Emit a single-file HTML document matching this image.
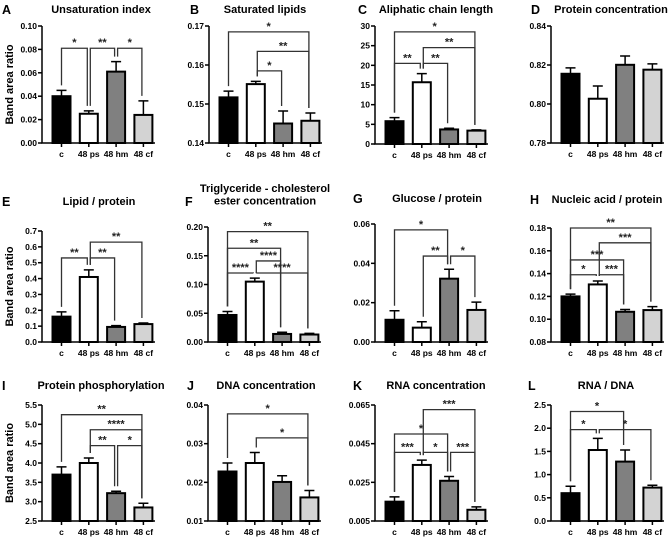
<!DOCTYPE html>
<html><head><meta charset="utf-8"><style>
html,body{margin:0;padding:0;background:#fff;}
svg{display:block;font-family:"Liberation Sans",Arial,sans-serif;font-weight:bold;}
</style></head><body>
<svg id="fig" width="669" height="538" viewBox="0 0 669 538" xmlns="http://www.w3.org/2000/svg"></svg>
<script>
const categories = ["c","48 ps","48 hm","48 cf"];
const barColors = ["#000000","#ffffff","#808080","#d3d3d3"];

const aVals=[0.040,0.025,0.061,0.024], aErr=[0.005,0.0025,0.0085,0.012];
const aTicks=[0,0.02,0.04,0.06,0.08,0.10];
const aBr=[[0,1,0.081,"*"],[1,2,0.081,"**"],[2,3,0.081,"*"]];
const bVals=[0.1517,0.1551,0.1450,0.1457], bErr=[0.0016,0.0007,0.0032,0.0020];
const bTicks=[0.14,0.15,0.16,0.17];
const bBr=[[0,3,0.1685,"*"],[1,3,0.1635,"**"],[1,2,0.1585,"*"]];
const cVals=[5.8,15.7,3.7,3.4], cErr=[0.9,2.2,0.3,0.2];
const cTicks=[0,5,10,15,20,25,30];
const cBr=[[0,3,28.5,"*"],[1,3,24.5,"**"],[0,1,20.5,"**"],[1,2,20.5,"**"]];
const dVals=[0.8155,0.8027,0.8201,0.8176], dErr=[0.003,0.0065,0.0045,0.003];
const dTicks=[0.78,0.80,0.82,0.84];
const dBr=[];
const eVals=[0.16,0.41,0.095,0.113], eErr=[0.03,0.045,0.008,0.007];
const eTicks=[0,0.1,0.2,0.3,0.4,0.5,0.6,0.7];
const eBr=[[1,3,0.63,"**"],[0,1,0.53,"**"],[1,2,0.53,"**"]];
const fVals=[0.047,0.105,0.014,0.013], fErr=[0.006,0.006,0.003,0.002];
const fTicks=[0,0.05,0.10,0.15,0.20];
const fBr=[[0,3,0.192,"**"],[0,2,0.163,"**"],[1,2,0.141,"****"],[0,1,0.12,"****"],[1,3,0.12,"****"]];
const gVals=[0.0113,0.0073,0.0322,0.0163], gErr=[0.0046,0.003,0.0048,0.004];
const gTicks=[0,0.02,0.04,0.06];
const gBr=[[0,2,0.057,"*"],[1,2,0.0437,"**"],[2,3,0.0437,"*"]];
const hVals=[0.120,0.1305,0.1065,0.108], hErr=[0.002,0.003,0.002,0.003];
const hTicks=[0.08,0.10,0.12,0.14,0.16,0.18];
const hBr=[[0,3,0.180,"**"],[1,3,0.167,"***"],[0,2,0.152,"***"],[0,1,0.139,"*"],[1,2,0.139,"***"]];
const iVals=[3.7,4.0,3.22,2.85], iErr=[0.2,0.13,0.05,0.11];
const iTicks=[2.5,3.0,3.5,4.0,4.5,5.0,5.5];
const iBr=[[0,3,5.25,"**"],[1,3,4.86,"****"],[1,2,4.45,"**"],[2,3,4.45,"*"]];
const jVals=[0.0228,0.025,0.0201,0.0161], jErr=[0.0022,0.0027,0.0016,0.0018];
const jTicks=[0.01,0.02,0.03,0.04];
const jBr=[[0,3,0.0377,"*"],[1,3,0.0315,"*"]];
const kVals=[0.015,0.034,0.0258,0.0108], kErr=[0.0025,0.0025,0.0022,0.0015];
const kTicks=[0.005,0.025,0.045,0.065];
const kBr=[[1,3,0.0626,"***"],[0,2,0.050,"*"],[0,1,0.0405,"***"],[1,2,0.0405,"*"],[2,3,0.0405,"***"]];
const lVals=[0.6,1.53,1.28,0.72], lErr=[0.15,0.25,0.25,0.05];
const lTicks=[0,0.5,1.0,1.5,2.0,2.5];
const lBr=[[0,2,2.36,"*"],[0,1,1.97,"*"],[1,3,1.97,"*"]];

const panels=[
 {id:"a",L:"A",T:["Unsaturation index"],ax:42,top:26,bot:143,min:0,max:0.10,dec:2,ticks:aTicks,v:aVals,e:aErr,br:aBr,yl:true,lx:2,ly:14,tx:101,ty:13},
 {id:"b",L:"B",T:["Saturated lipids"],ax:209,top:26,bot:143,min:0.14,max:0.17,dec:2,ticks:bTicks,v:bVals,e:bErr,br:bBr,lx:190,ly:14,tx:265,ty:13},
 {id:"c",L:"C",T:["Aliphatic chain length"],ax:375,top:26,bot:144,min:0,max:30,dec:0,ticks:cTicks,v:cVals,e:cErr,br:cBr,lx:358,ly:14,tx:436,ty:13},
 {id:"d",L:"D",T:["Protein concentration"],ax:551,top:26,bot:143,min:0.78,max:0.84,dec:2,ticks:dTicks,v:dVals,e:dErr,br:dBr,lx:531,ly:14,tx:611,ty:13},
 {id:"e",L:"E",T:["Lipid / protein"],ax:42,top:231,bot:342,min:0,max:0.7,dec:1,ticks:eTicks,v:eVals,e:eErr,br:eBr,yl:true,lx:2,ly:206,tx:99,ty:205},
 {id:"f",L:"F",T:["Triglyceride - cholesterol","ester concentration"],ax:208,top:227,bot:342,min:0,max:0.20,dec:2,ticks:fTicks,v:fVals,e:fErr,br:fBr,lx:185,ly:206,tx:265,ty:192},
 {id:"g",L:"G",T:["Glucose / protein"],ax:375,top:224,bot:342,min:0,max:0.06,dec:2,ticks:gTicks,v:gVals,e:gErr,br:gBr,lx:353,ly:203,tx:437,ty:202},
 {id:"h",L:"H",T:["Nucleic acid / protein"],ax:551,top:228,bot:342,min:0.08,max:0.18,dec:2,ticks:hTicks,v:hVals,e:hErr,br:hBr,lx:530,ly:204,tx:607,ty:203},
 {id:"i",L:"I",T:["Protein phosphorylation"],ax:42,top:405,bot:521,min:2.5,max:5.5,dec:1,ticks:iTicks,v:iVals,e:iErr,br:iBr,yl:true,lx:2,ly:390,tx:101,ty:389},
 {id:"j",L:"J",T:["DNA concentration"],ax:208,top:405,bot:521,min:0.01,max:0.04,dec:2,ticks:jTicks,v:jVals,e:jErr,br:jBr,lx:187,ly:390,tx:266,ty:389},
 {id:"k",L:"K",T:["RNA concentration"],ax:375,top:405,bot:521,min:0.005,max:0.065,dec:3,ticks:kTicks,v:kVals,e:kErr,br:kBr,lx:353,ly:390,tx:436,ty:389},
 {id:"l",L:"L",T:["RNA / DNA"],ax:551,top:405,bot:521,min:0,max:2.5,dec:1,ticks:lTicks,v:lVals,e:lErr,br:lBr,lx:528,ly:390,tx:606,ty:389}
];

const NS="http://www.w3.org/2000/svg";
const svg=document.getElementById("fig");
function mk(tag,attrs,parent,txt){const el=document.createElementNS(NS,tag);for(const k in attrs)el.setAttribute(k,attrs[k]);if(txt!==undefined)el.textContent=txt;(parent||svg).appendChild(el);return el;}

panels.forEach(p=>{
  const g=mk("g",{});
  
  
  const y=v=>p.bot-(v-p.min)/(p.max-p.min)*(p.bot-p.top);
  const cx=i=>p.ax+19.5+27.3*i;
  const letter=mk("text",{x:p.lx,y:p.ly,"font-size":12.5},g,p.L);
  
  
  p.T.forEach((t,k)=>{
    const tt=mk("text",{x:p.tx,y:p.ty+k*12.5,"font-size":11,"text-anchor":"middle"},g,t);
    
    
  });
  if(p.yl){
    const ym=(p.top+p.bot)/2;
    const yt=mk("text",{x:13,y:ym,"font-size":11,"text-anchor":"middle",transform:`rotate(-90 13 ${ym})`},g,"Band area ratio");
    
    
  }
  p.v.forEach((v,i)=>{
    const b=mk("rect",{x:cx(i)-9,y:y(v),width:18,height:p.bot-y(v),fill:barColors[i],stroke:"#000","stroke-width":2},g);
    
    
    const et=y(v+p.e[i]);
    const eb=mk("path",{d:`M${cx(i)} ${y(v)}V${et}M${cx(i)-5} ${et}H${cx(i)+5}`,stroke:"#000","stroke-width":1.5,fill:"none"},g);
    
    
  });
  const axes=mk("path",{d:`M${p.ax} ${p.top}V${p.bot}H${p.ax+113}`,stroke:"#000","stroke-width":1.5,fill:"none"},g);
  
  
  p.ticks.forEach(t=>{
    mk("line",{x1:p.ax-4,x2:p.ax,y1:y(t),y2:y(t),stroke:"#000","stroke-width":1.5},g);
    const tl=mk("text",{x:p.ax-5,y:y(t)+3,"font-size":8.5,"text-anchor":"end"},g,t.toFixed(p.dec));
    
    
  });
  categories.forEach((c,i)=>{
    mk("line",{x1:cx(i),x2:cx(i),y1:p.bot,y2:p.bot+4,stroke:"#000","stroke-width":1.5},g);
    const xl=mk("text",{x:cx(i),y:p.bot+14,"font-size":8.5,"text-anchor":"middle"},g,c);
    
    
  });
  p.br.forEach(b=>{
    const [i,j,lev,lab]=b;
    const ly=y(lev);
    const x1=cx(i)+(i>0?1.5:0), x2=cx(j)-1.5;
    const l1=y(p.v[i]+p.e[i])-5, l2=y(p.v[j]+p.e[j])-5;
    const br=mk("path",{d:`M${x1} ${l1}V${ly}H${x2}V${l2}`,stroke:"#333","stroke-width":1.3,fill:"none"},g);
    
    
    const st=mk("text",{x:(x1+x2)/2,y:ly-2,"font-size":11,"text-anchor":"middle",fill:"#222"},g,lab);
    
    
  });
});
</script>
</body></html>
